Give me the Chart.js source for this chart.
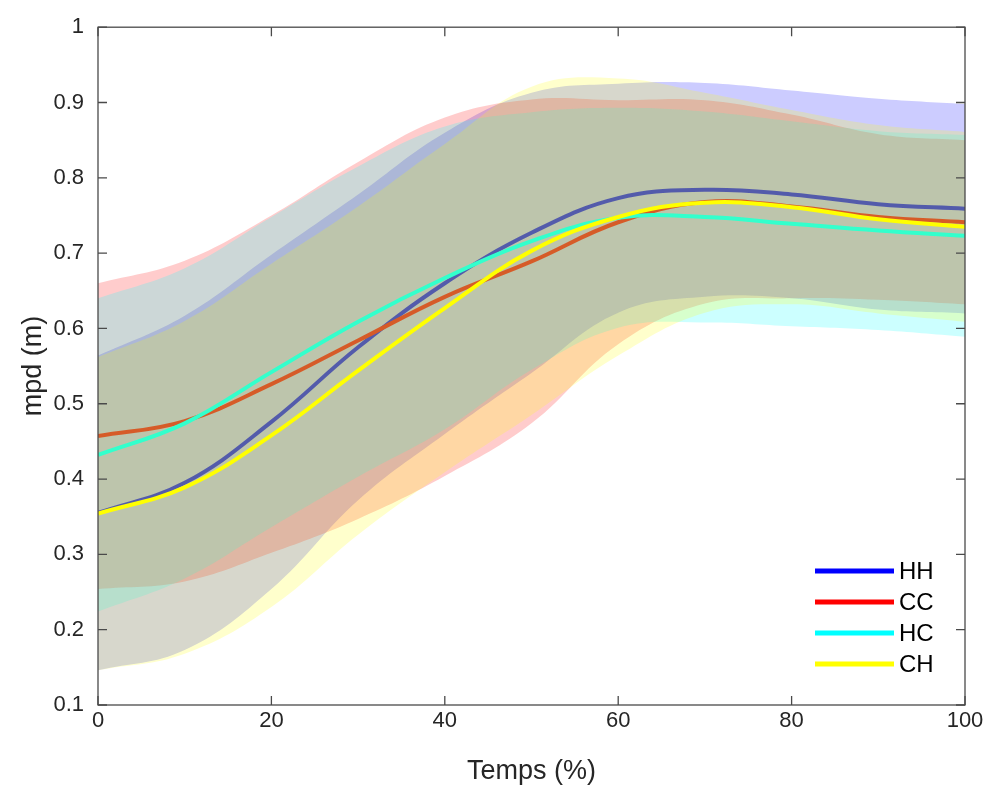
<!DOCTYPE html>
<html>
<head>
<meta charset="utf-8">
<script src="https://cdn.jsdelivr.net/npm/chart.js@4.4.0/dist/chart.umd.min.js"></script>
<style>
    body { margin: 0; background: #ffffff; }
    #grafico-mpd { display: block; }
</style>
</head>
<body>
<canvas id="grafico-mpd" width="992" height="792"></canvas>
<script>
// Temps (%) en abscisse
const temps = [0, 10, 20, 30, 40, 50, 60, 70, 80, 90, 100];

// Moyennes de mpd (m) par groupe
const mpdHH = [0.355, 0.395, 0.476, 0.575, 0.660, 0.727, 0.773, 0.784, 0.778, 0.765, 0.759];
const mpdCC = [0.457, 0.477, 0.526, 0.584, 0.642, 0.689, 0.741, 0.768, 0.762, 0.748, 0.741];
const mpdHC = [0.432, 0.474, 0.542, 0.609, 0.667, 0.716, 0.747, 0.748, 0.739, 0.730, 0.723];
const mpdCH = [0.354, 0.389, 0.458, 0.544, 0.627, 0.703, 0.748, 0.767, 0.761, 0.745, 0.735];

// Ecarts-types (bande moyenne +/- sd)
const sdHH = [0.209, 0.222, 0.222, 0.203, 0.200, 0.186, 0.152, 0.142, 0.138, 0.140, 0.139];
const sdCC = [0.203, 0.213, 0.224, 0.237, 0.238, 0.215, 0.162, 0.135, 0.122, 0.110, 0.109];
const sdHC = [0.208, 0.206, 0.206, 0.206, 0.201, 0.171, 0.146, 0.140, 0.136, 0.132, 0.134];
const sdCH = [0.208, 0.221, 0.228, 0.218, 0.218, 0.218, 0.184, 0.146, 0.129, 0.125, 0.126];

const groupes = ['HH', 'CC', 'HC', 'CH'];
const ticksX = [0, 20, 40, 60, 80, 100];
const ticksY = [0.1, 0.2, 0.3, 0.4, 0.5, 0.6, 0.7, 0.8, 0.9, 1];

const couleurs = ['#0000ff', '#ff0000', '#00ffff', '#ffff00'];
const bandes = ['rgba(0,0,255,0.2)', 'rgba(255,0,0,0.2)', 'rgba(0,255,255,0.2)', 'rgba(255,255,0,0.2)'];
const police = '"Liberation Sans", Arial, Helvetica, sans-serif';
const gris = '#262626';

function points(valeurs) {
    return temps.map(function (t, i) {
        return { x: t, y: valeurs[i] };
    });
}

const moyennes = [mpdHH, mpdCC, mpdHC, mpdCH];
const ecarts = [sdHH, sdCC, sdHC, sdCH];

// chaque groupe : courbe moyenne, puis bande par-dessus (comme fill() de matlab)
let datasets = [];
for (let g = 0; g < groupes.length; g++) {
    let haut = moyennes[g].map(function (m, i) { return m + ecarts[g][i]; });
    let bas = moyennes[g].map(function (m, i) { return m - ecarts[g][i]; });
    let indexBas = datasets.length + 2;

    datasets.push({
        label: groupes[g],
        data: points(moyennes[g]),
        borderColor: couleurs[g],
        borderWidth: 4,
        fill: false,
        order: 8 - 2 * g
    });
    datasets.push({
        label: groupes[g] + ' +sd',
        data: points(haut),
        borderColor: 'rgba(0,0,0,0)',
        borderWidth: 0,
        backgroundColor: bandes[g],
        fill: { target: indexBas },
        order: 7 - 2 * g
    });
    datasets.push({
        label: groupes[g] + ' -sd',
        data: points(bas),
        borderColor: 'rgba(0,0,0,0)',
        borderWidth: 0,
        fill: false,
        order: 0
    });
}

// cadre + graduations vers l'interieur
const cadre = {
    id: 'cadre',
    afterDatasetsDraw: function (chart) {
        const ctx = chart.ctx;
        const a = chart.chartArea;
        const sx = chart.scales.x;
        const sy = chart.scales.y;
        ctx.save();
        ctx.strokeStyle = '#4a4a4a';
        ctx.lineWidth = 1.3;
        ctx.strokeRect(a.left, a.top, a.right - a.left, a.bottom - a.top);
        ctx.beginPath();
        ticksX.forEach(function (v) {
            let px = sx.getPixelForValue(v);
            ctx.moveTo(px, a.bottom); ctx.lineTo(px, a.bottom - 9);
            ctx.moveTo(px, a.top); ctx.lineTo(px, a.top + 9);
        });
        ticksY.forEach(function (v) {
            let py = sy.getPixelForValue(v);
            ctx.moveTo(a.left, py); ctx.lineTo(a.left + 9, py);
            ctx.moveTo(a.right, py); ctx.lineTo(a.right - 9, py);
        });
        ctx.stroke();
        ctx.restore();
    }
};

// legende en bas a droite, sans boite
const legende = {
    id: 'legende',
    afterDraw: function (chart) {
        const ctx = chart.ctx;
        const a = chart.chartArea;
        let x0 = a.right - 150;
        let y0 = a.bottom - 134;
        ctx.save();
        ctx.font = '24px ' + police;
        ctx.textBaseline = 'middle';
        ctx.textAlign = 'left';
        for (let g = 0; g < groupes.length; g++) {
            let y = y0 + g * 31;
            ctx.strokeStyle = couleurs[g];
            ctx.lineWidth = 5;
            ctx.beginPath();
            ctx.moveTo(x0, y);
            ctx.lineTo(x0 + 79, y);
            ctx.stroke();
            ctx.fillStyle = '#000000';
            ctx.fillText(groupes[g], x0 + 84, y + 1);
        }
        ctx.restore();
    }
};

const ctx = document.getElementById('grafico-mpd');
new Chart(ctx, {
    type: 'line',
    data: { datasets: datasets },
    plugins: [cadre, legende],
    options: {
        responsive: false,
        animation: false,
        devicePixelRatio: 1,
        layout: { padding: { top: 20, right: 27, bottom: 0, left: 0 } },
        elements: {
            point: { radius: 0 },
            line: { tension: 0.4 }
        },
        plugins: {
            legend: { display: false },
            tooltip: { enabled: false }
        },
        scales: {
            x: {
                type: 'linear',
                min: 0,
                max: 100,
                grid: { display: false, drawTicks: false },
                border: { display: false },
                afterBuildTicks: function (s) {
                    s.ticks = ticksX.map(function (v) { return { value: v }; });
                },
                afterFit: function (s) { s.height = 87; },
                ticks: {
                    font: { size: 22, family: police },
                    color: gris,
                    padding: 3,
                    maxRotation: 0
                },
                title: {
                    display: true,
                    text: 'Temps (%)',
                    font: { size: 27, family: police },
                    color: gris,
                    padding: { top: 0, bottom: 4 }
                }
            },
            y: {
                min: 0.1,
                max: 1,
                grid: { display: false, drawTicks: false },
                border: { display: false },
                afterBuildTicks: function (s) {
                    s.ticks = ticksY.map(function (v) { return { value: v }; });
                },
                afterFit: function (s) { s.width = 98; },
                ticks: {
                    font: { size: 22, family: police },
                    color: gris,
                    padding: 14,
                    callback: function (v) { return String(Math.round(v * 10) / 10); }
                },
                title: {
                    display: true,
                    text: 'mpd (m)',
                    font: { size: 27, family: police },
                    color: gris,
                    padding: { top: 17, bottom: 0 }
                }
            }
        }
    }
});
</script>
</body>
</html>
